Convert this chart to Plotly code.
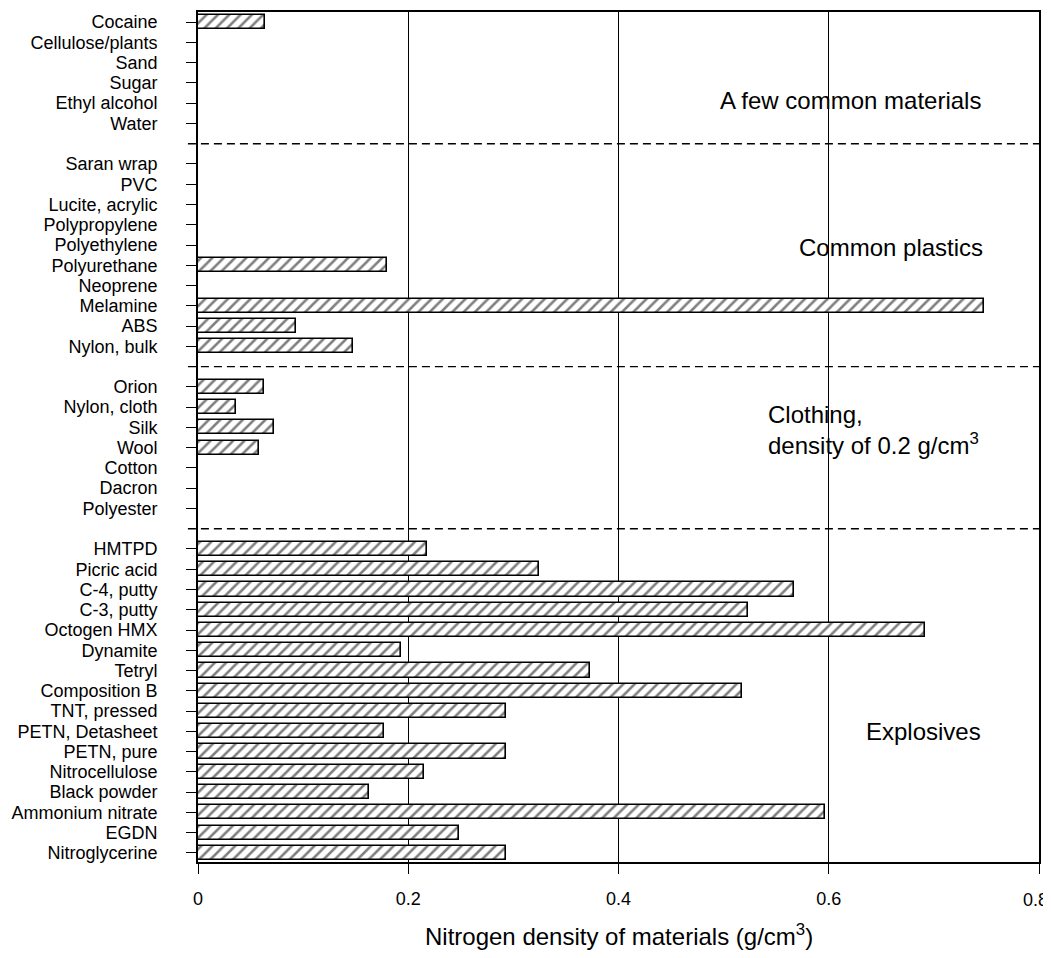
import plotly.graph_objects as go

# ---- data (top to bottom) ----
common_names = ["Cocaine", "Cellulose/plants", "Sand", "Sugar", "Ethyl alcohol", "Water"]
common_vals = [0.064, None, None, None, None, None]

plastic_names = ["Saran wrap", "PVC", "Lucite, acrylic", "Polypropylene", "Polyethylene",
                 "Polyurethane", "Neoprene", "Melamine", "ABS", "Nylon, bulk"]
plastic_vals = [None, None, None, None, None, 0.180, None, 0.748, 0.093, 0.147]

clothing_names = ["Orion", "Nylon, cloth", "Silk", "Wool", "Cotton", "Dacron", "Polyester"]
clothing_vals = [0.063, 0.036, 0.072, 0.058, None, None, None]

explosive_names = ["HMTPD", "Picric acid", "C-4, putty", "C-3, putty", "Octogen HMX", "Dynamite",
                   "Tetryl", "Composition B", "TNT, pressed", "PETN, Detasheet", "PETN, pure",
                   "Nitrocellulose", "Black powder", "Ammonium nitrate", "EGDN", "Nitroglycerine"]
explosive_vals = [0.218, 0.324, 0.567, 0.523, 0.692, 0.193, 0.373, 0.517, 0.293, 0.177,
                  0.293, 0.215, 0.163, 0.596, 0.248, 0.293]

group_labels = ["A few common materials", "Common plastics",
                "Clothing,<br>density of 0.2 g/cm<sup>3</sup>", "Explosives"]

x_ticks = [0, 0.2, 0.4, 0.6, 0.8]
x_ticktext = ["0", "0.2", "0.4", "0.6", "0.8"]
x_title = "Nitrogen density of materials (g/cm<sup>3</sup>)"

groups = [(common_names, common_vals), (plastic_names, plastic_vals),
          (clothing_names, clothing_vals), (explosive_names, explosive_vals)]

# ---- layout of category slots (one empty slot between groups) ----
names, vals, ypos, sep_pos = [], [], [], []
slot = 0
for gi, (gn, gv) in enumerate(groups):
    for n, v in zip(gn, gv):
        names.append(n)
        vals.append(v)
        ypos.append(slot)
        slot += 1
    if gi < len(groups) - 1:
        sep_pos.append(slot)
        slot += 1

FONT = "Liberation Sans, Arial, Helvetica, sans-serif"

fig = go.Figure()
fig.add_trace(go.Bar(
    x=vals, y=ypos, orientation="h", width=0.7,
    marker=dict(color="white",
                line=dict(color="black", width=1.6),
                pattern=dict(shape="/", fgcolor="black", size=8, solidity=0.32)),
    showlegend=False, hoverinfo="skip",
))

shapes = []
for s in sep_pos:
    shapes.append(dict(type="line", xref="paper", yref="y", x0=-0.012, x1=1, y0=s, y1=s,
                       line=dict(color="black", width=1.4, dash="8px,5px")))

annotations = [
    dict(x=0.747, y=3.85, text=group_labels[0], xanchor="right", yanchor="middle"),
    dict(x=0.749, y=11.1, text=group_labels[1], xanchor="right", yanchor="middle"),
    dict(x=0.540, y=20.15, text=group_labels[2], xanchor="left", yanchor="middle", align="left"),
    dict(x=0.747, y=35.0, text=group_labels[3], xanchor="right", yanchor="middle"),
]
for a in annotations:
    a.update(xref="x", yref="y", showarrow=False, font=dict(family=FONT, size=24, color="black"))

annotations.append(dict(x=0.5, y=-0.086, xref="paper", yref="paper", text=x_title,
                        showarrow=False, xanchor="center", yanchor="middle",
                        font=dict(family=FONT, size=24, color="black")))

# last x tick label sits at the very edge of the page: drawn right-anchored so it is not clipped
annotations.append(dict(x=x_ticks[-1], y=-0.0445, xref="x", yref="paper", text=x_ticktext[-1],
                        showarrow=False, xanchor="right", yanchor="middle", xshift=11,
                        font=dict(family=FONT, size=18, color="black")))
axis_ticktext = x_ticktext[:-1] + [""]

# page body has an 8px margin, so the figure is made 8px smaller and shifted margins
fig.update_layout(
    width=1043, height=950,
    margin=dict(l=190, r=12, t=4, b=96, autoexpand=False),
    paper_bgcolor="white", plot_bgcolor="white",
    font=dict(family=FONT, color="black", size=18),
    shapes=shapes, annotations=annotations,
    bargap=0,
)
fig.update_xaxes(
    range=[0, 0.8], tickvals=x_ticks, ticktext=axis_ticktext,
    showgrid=True, gridcolor="black", gridwidth=1.4,
    showline=True, linecolor="black", linewidth=1.6, mirror=True,
    ticks="outside", ticklen=10, tickcolor="black", tickwidth=1.4,
    ticklabelstandoff=10, zeroline=False, automargin=False,
    ticklabeloverflow="allow",
    tickfont=dict(family=FONT, size=18),
)
fig.update_yaxes(
    range=[41.45, -0.5], tickvals=ypos, ticktext=names,
    showgrid=False, zeroline=False, automargin=False,
    showline=True, linecolor="black", linewidth=1.6, mirror=True,
    ticks="outside", ticklen=10, tickcolor="black", tickwidth=1.4,
    ticklabelstandoff=25, ticklabeloverflow="allow",
    tickfont=dict(family=FONT, size=18),
)

fig.write_html("out.html")
